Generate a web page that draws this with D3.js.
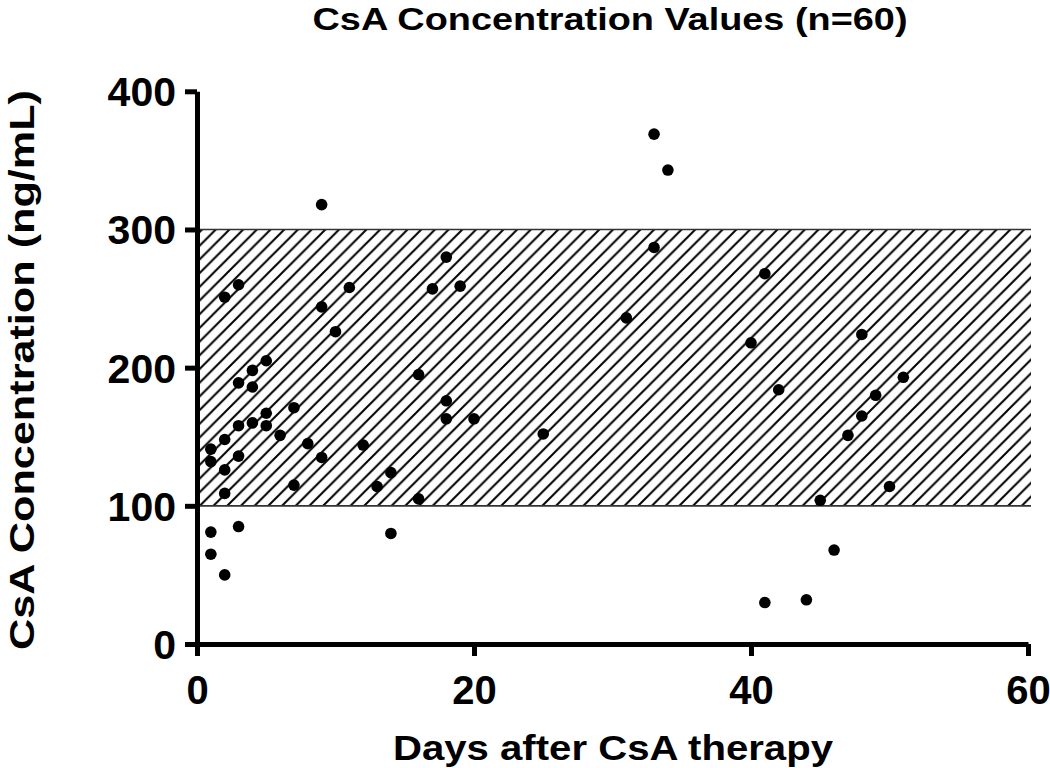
<!DOCTYPE html>
<html>
<head>
<meta charset="utf-8">
<script src="https://cdn.jsdelivr.net/npm/d3@7"></script>
<style>
  html, body { margin: 0; padding: 0; background: #fff; }
  svg { display: block; }
  text { font-family: "Liberation Sans", Arial, sans-serif; font-weight: bold; fill: #000; }
</style>
</head>
<body>
<svg id="chart" width="1050" height="768"></svg>
<script>
// ---- Data ----
const title = "CsA Concentration Values (n=60)";
const xLabel = "Days after CsA therapy";
const yLabel = "CsA Concentration (ng/mL)";
const xTicks = [0, 20, 40, 60];
const yTicks = [0, 100, 200, 300, 400];
const targetRange = [100, 300];
const days = [1, 1, 1, 1, 2, 2, 2, 2, 2, 3, 3, 3, 3, 3, 4, 4, 4, 5, 5, 5,
  6, 7, 7, 8, 9, 9, 9, 10, 11, 12, 13, 14, 14, 16, 16, 17, 18, 18, 18, 19,
  20, 25, 31, 33, 33, 34, 40, 41, 41, 42, 44, 45, 46, 47, 48, 48, 49, 50, 51];
const values = [141, 132, 81, 65, 251, 148, 126, 109, 50, 260, 189, 158, 136, 85, 198, 186, 160, 205, 167, 158,
  151, 171, 115, 145, 318, 244, 135, 226, 258, 144, 114, 124, 80, 195, 105, 257, 280, 176, 163, 259,
  163, 152, 236, 369, 287, 343, 218, 268, 30, 184, 32, 104, 68, 151, 224, 165, 180, 114, 193];

// ---- Scales ----
const svg = d3.select("#chart");
const x = d3.scaleLinear().domain([0, 60]).range([197, 1028]);
const y = d3.scaleLinear().domain([0, 400]).range([644, 91.3]);

// ---- Hatch pattern ----
const p = 13.7;
const defs = svg.append("defs");
const pat = defs.append("pattern")
  .attr("id", "hatch").attr("patternUnits", "userSpaceOnUse")
  .attr("x", 6.9).attr("y", 0).attr("width", p).attr("height", p);
pat.append("path")
  .attr("d", `M0,${p} L${p},0 M${-p/2},${p/2} L${p/2},${-p/2} M${p/2},${p*1.5} L${p*1.5},${p/2}`)
  .attr("stroke", "#000").attr("stroke-width", 2).attr("fill", "none");

svg.append("rect")
  .attr("x", x(0)).attr("y", y(targetRange[1]))
  .attr("width", x(60) + 3 - x(0)).attr("height", y(targetRange[0]) - y(targetRange[1]))
  .attr("fill", "url(#hatch)");
svg.selectAll("line.band").data(targetRange).enter().append("line")
  .attr("class", "band")
  .attr("x1", x(0)).attr("x2", x(60) + 3)
  .attr("y1", d => y(d)).attr("y2", d => y(d))
  .attr("stroke", "#333").attr("stroke-width", 1.6);

// ---- Points ----
svg.append("g").selectAll("circle").data(days.map((d, i) => [d, values[i]])).enter()
  .append("circle")
  .attr("cx", d => x(d[0])).attr("cy", d => y(d[1])).attr("r", 5.8)
  .attr("fill", "#000");

// ---- Axes ----
const yAxis = svg.append("g").attr("transform", `translate(${x(0)},0)`)
  .call(d3.axisLeft(y).tickValues(yTicks).tickSize(12).tickSizeOuter(0).tickPadding(9));
const xAxis = svg.append("g").attr("transform", `translate(0,${y(0)})`)
  .call(d3.axisBottom(x).tickValues(xTicks).tickSize(12).tickSizeOuter(0).tickPadding(20));
[yAxis, xAxis].forEach(g => {
  g.select(".domain").attr("stroke", "#000").attr("stroke-width", 5);
  g.selectAll(".tick line").attr("stroke", "#000").attr("stroke-width", 5);
});
yAxis.selectAll(".tick text").attr("font-size", 41).attr("dy", "0.35em")
  .attr("font-family", "Liberation Sans, Arial, sans-serif").attr("font-weight", "bold");
xAxis.selectAll(".tick text").attr("font-size", 40).attr("dy", "0.71em")
  .attr("font-family", "Liberation Sans, Arial, sans-serif").attr("font-weight", "bold");

// ---- Titles ----
svg.append("text").attr("x", 610).attr("y", 30).attr("text-anchor", "middle")
  .attr("font-size", 32).attr("textLength", 595).attr("lengthAdjust", "spacingAndGlyphs")
  .text(title);
svg.append("text").attr("x", 613).attr("y", 760).attr("text-anchor", "middle")
  .attr("font-size", 35).attr("textLength", 440).attr("lengthAdjust", "spacingAndGlyphs")
  .text(xLabel);
svg.append("text").attr("transform", "translate(34,370) rotate(-90)").attr("text-anchor", "middle")
  .attr("font-size", 35).attr("textLength", 560).attr("lengthAdjust", "spacingAndGlyphs")
  .text(yLabel);
</script>
</body>
</html>
